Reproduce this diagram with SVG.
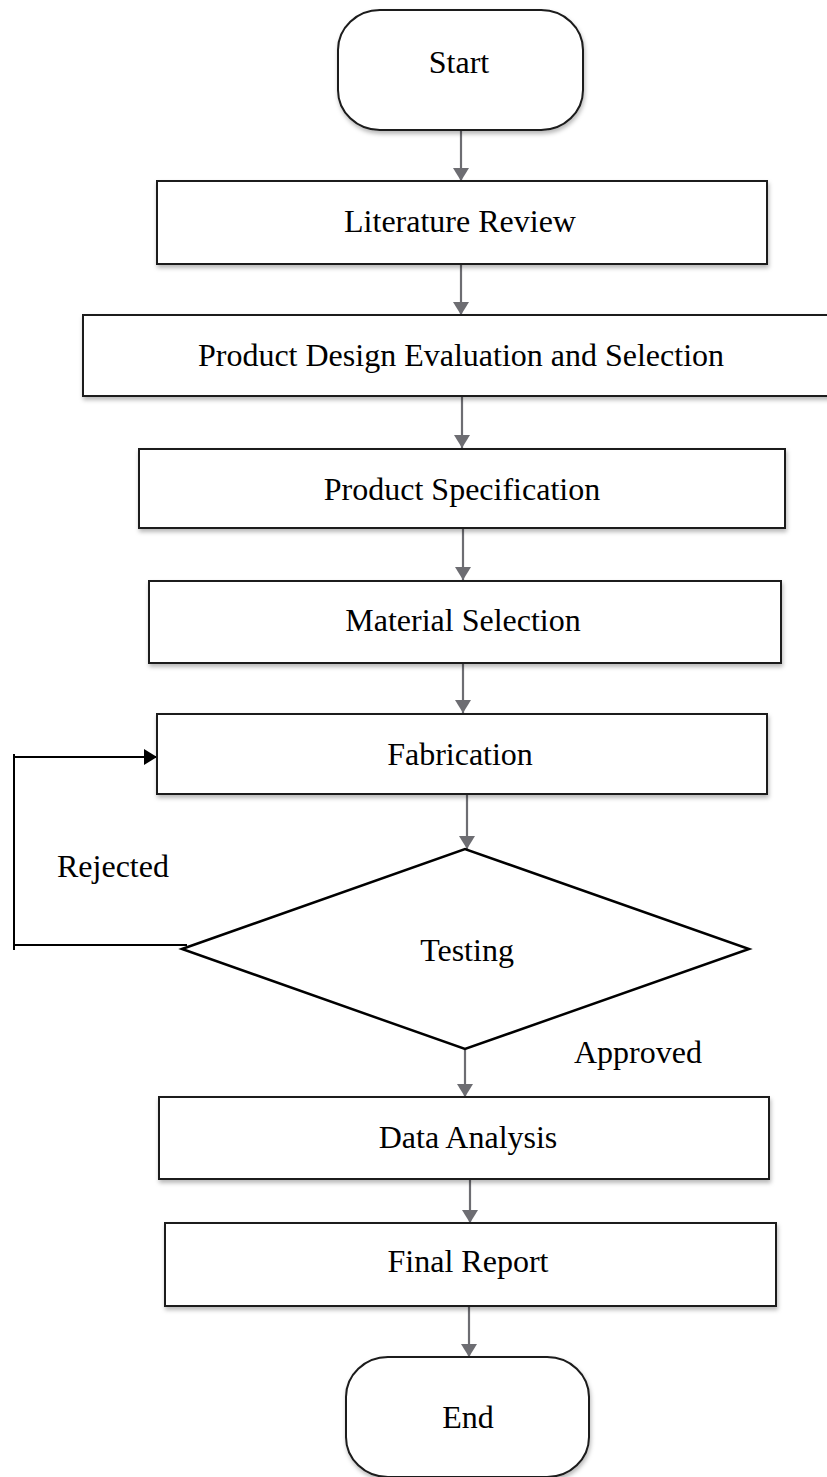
<svg xmlns="http://www.w3.org/2000/svg" width="827" height="1477" viewBox="0 0 827 1477">
  <style>
    .box { fill: #ffffff; stroke: #1a1a1a; stroke-width: 2; filter: url(#shadow); }
    .dia { fill: #ffffff; stroke: #000000; stroke-width: 2.5; }
    .lbl { font-family: "Liberation Serif", "Times New Roman", serif; font-size: 32px; fill: #000000; text-anchor: middle; }
    .free { font-family: "Liberation Serif", "Times New Roman", serif; font-size: 32px; fill: #000000; }
    .flow { stroke: #6d6d72; stroke-width: 2.2; fill: none; marker-end: url(#gray); }
    .loop { stroke: #000000; stroke-width: 2; fill: none; }
  </style>
  <defs>
    <filter id="shadow" x="-5%" y="-10%" width="110%" height="130%">
      <feDropShadow dx="1" dy="3" stdDeviation="2" flood-color="#000000" flood-opacity="0.28"/>
    </filter>
    <marker id="gray" markerUnits="userSpaceOnUse" markerWidth="14" markerHeight="16" refX="13" refY="8" orient="auto">
      <path d="M0,0 L13,8 L0,16 z" fill="#6d6d72"/>
    </marker>
    <marker id="black" markerUnits="userSpaceOnUse" markerWidth="14" markerHeight="16" refX="13" refY="8" orient="auto">
      <path d="M0,0 L13,8 L0,16 z" fill="#000000"/>
    </marker>
  </defs>
  <rect width="827" height="1477" fill="#ffffff"/>

  <g id="connectors">
    <line class="flow" x1="461" y1="130" x2="461" y2="181"/>
    <line class="flow" x1="461" y1="264" x2="461" y2="315"/>
    <line class="flow" x1="462" y1="396" x2="462" y2="448"/>
    <line class="flow" x1="463" y1="528" x2="463" y2="580"/>
    <line class="flow" x1="463" y1="663" x2="463" y2="713"/>
    <line class="flow" x1="467" y1="795" x2="467" y2="849"/>
    <line class="flow" x1="465" y1="1049" x2="465" y2="1097"/>
    <line class="flow" x1="470" y1="1176" x2="470" y2="1223"/>
    <line class="flow" x1="469" y1="1306" x2="469" y2="1357"/>
    <g id="loop-rejected">
      <line class="loop" x1="187" y1="945" x2="14" y2="945"/>
      <line class="loop" x1="14" y1="950" x2="14" y2="754"/>
      <line class="loop" x1="14" y1="757" x2="157" y2="757" marker-end="url(#black)"/>
    </g>
    <text class="free" x="57" y="877">Rejected</text>
    <text class="free" x="574" y="1063">Approved</text>
  </g>

  <g id="start">
    <rect class="box" x="338" y="10" width="245" height="120" rx="42" ry="40"/>
    <text class="lbl" x="459" y="73">Start</text>
  </g>
  <g id="literature-review">
    <rect class="box" x="157" y="181" width="610" height="83"/>
    <text class="lbl" x="460" y="232">Literature Review</text>
  </g>
  <g id="product-design">
    <rect class="box" x="83" y="315" width="760" height="81"/>
    <text class="lbl" x="461" y="366">Product Design Evaluation and Selection</text>
  </g>
  <g id="product-specification">
    <rect class="box" x="139" y="449" width="646" height="79"/>
    <text class="lbl" x="462" y="500">Product Specification</text>
  </g>
  <g id="material-selection">
    <rect class="box" x="149" y="581" width="632" height="82"/>
    <text class="lbl" x="463" y="631">Material Selection</text>
  </g>
  <g id="fabrication">
    <rect class="box" x="157" y="714" width="610" height="80"/>
    <text class="lbl" x="460" y="765">Fabrication</text>
  </g>
  <g id="testing">
    <polygon class="dia" points="182,949 465,849 749,949 465,1049"/>
    <text class="lbl" x="467" y="961">Testing</text>
  </g>
  <g id="data-analysis">
    <rect class="box" x="159" y="1097" width="610" height="82"/>
    <text class="lbl" x="468" y="1148">Data Analysis</text>
  </g>
  <g id="final-report">
    <rect class="box" x="165" y="1223" width="611" height="83"/>
    <text class="lbl" x="468" y="1272">Final Report</text>
  </g>
  <g id="end">
    <rect class="box" x="346" y="1357" width="243" height="120" rx="42" ry="40"/>
    <text class="lbl" x="468" y="1428">End</text>
  </g>
</svg>
